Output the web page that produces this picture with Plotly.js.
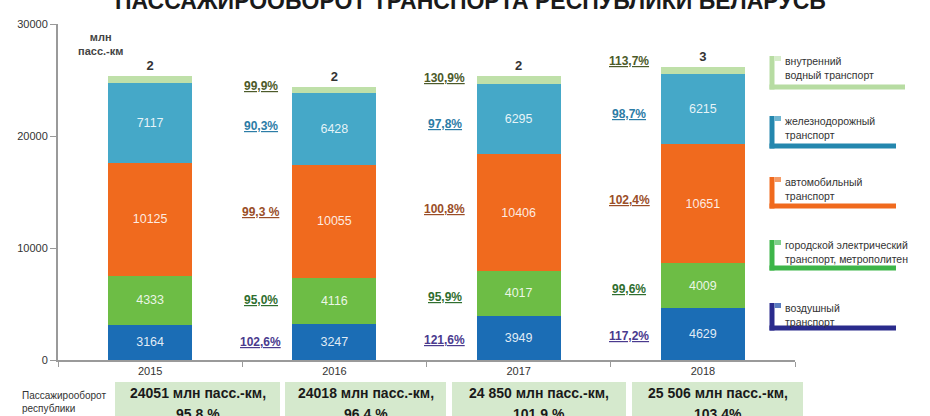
<!DOCTYPE html>
<html>
<head>
<meta charset="utf-8">
<script src="https://cdn.plot.ly/plotly-3.0.1.min.js"></script>
<style>html,body{margin:0;padding:0;background:#fff;}#chart{width:930px;height:416px;}</style>
</head>
<body>
<div id="chart"></div>
<script>
// ---- data ----
const years = ['2015', '2016', '2017', '2018'];
const air = [3164, 3247, 3949, 4629];
const urban = [4333, 4116, 4017, 4009];
const auto = [10125, 10055, 10406, 10651];
const rail = [7117, 6428, 6295, 6215];
const waterValues = [2, 2, 2, 3];
const waterDrawn = [600, 550, 650, 650]; // visible cap height as drawn in the picture

const airGrowth = ['102,6%', '121,6%', '117,2%'];
const urbanGrowth = ['95,0%', '95,9%', '99,6%'];
const autoGrowth = ['99,3 %', '100,8%', '102,4%'];
const railGrowth = ['90,3%', '97,8%', '98,7%'];
const waterGrowth = ['99,9%', '130,9%', '113,7%'];

const totals = ['24051 млн пасс.-км,', '24018 млн пасс.-км,', '24 850 млн пасс.-км,', '25 506 млн пасс.-км,'];
const totalPct = ['95,8 %', '96,4 %', '101,9 %', '103,4%'];

const seriesNames = ['воздушный транспорт', 'городской электрический транспорт, метрополитен', 'автомобильный транспорт', 'железнодорожный транспорт', 'внутренний водный транспорт'];
const legendLabels = ['внутренний<br>водный транспорт', 'железнодорожный<br>транспорт', 'автомобильный<br>транспорт', 'городской электрический<br>транспорт, метрополитен', 'воздушный<br>транспорт'];

// ---- styles ----
const SANS = '"Liberation Sans", Arial, sans-serif';
const colors = {air: '#1b6db5', urban: '#6dbd45', auto: '#f06a1e', rail: '#45a8c8', water: '#bfe0a9'};
const pctColors = {air: '#4a3a8e', urban: '#2f6e2f', auto: '#9a4e28', rail: '#2c7ca6', water: '#4c5a2a'};

const L = 58, R = 135, T = 24, B = 56, W = 930, H = 416;
const PW = W - L - R, PH = H - T - B;
const PX = x => (x - L) / PW;
const PY = y => (H - B - y) / PH;

const barW = 0.455;
const insideFont = {family: SANS, size: 12.5, color: 'rgba(255,255,255,0.88)'};

function barTrace(name, vals, color) {
  return {
    type: 'bar', name: name, x: years, y: vals, width: barW,
    marker: {color: color, line: {width: 0}},
    text: vals.map(String), textposition: 'inside', insidetextanchor: 'middle',
    textangle: 0, constraintext: 'none', textfont: insideFont,
    hoverinfo: 'skip', showlegend: false
  };
}

const traces = [
  barTrace(seriesNames[0], air, colors.air),
  barTrace(seriesNames[1], urban, colors.urban),
  barTrace(seriesNames[2], auto, colors.auto),
  barTrace(seriesNames[3], rail, colors.rail),
  {
    type: 'bar', name: seriesNames[4], x: years, y: waterDrawn, width: barW,
    marker: {color: colors.water, line: {width: 0}},
    text: waterValues.map(String), textposition: 'outside', cliponaxis: false,
    textfont: {family: SANS, size: 13, color: '#333', weight: 'bold'},
    hoverinfo: 'skip', showlegend: false
  }
];

// ---- growth annotations, positioned from the data ----
const annotations = [];
const shapes = [];
const mids = i => {
  const a = air[i], u = urban[i], au = auto[i], r = rail[i];
  return {
    air: a / 2,
    urban: a + u / 2,
    auto: a + u + au / 2,
    rail: a + u + au + r / 2,
    water: a + u + au + r
  };
};
function pct(text, key, i, shift) {
  const m1 = mids(i), m2 = mids(i + 1);
  annotations.push({
    x: i + 0.6, y: (m1[key] + m2[key]) / 2, xref: 'x', yref: 'y',
    text: '<u>' + text + '</u>', showarrow: false, yshift: shift || 0,
    font: {family: SANS, size: 12, color: pctColors[key], weight: 'bold'}
  });
}
for (let i = 0; i < 3; i++) {
  pct(airGrowth[i], 'air', i, 0);
  pct(urbanGrowth[i], 'urban', i, 0);
  pct(autoGrowth[i], 'auto', i, 8);
  pct(railGrowth[i], 'rail', i, 0);
  pct(waterGrowth[i], 'water', i, 2 + 8 * i);
}

// title (cut off at top as in reference)
annotations.push({
  x: PX(470), y: PY(16), xref: 'paper', yref: 'paper', xanchor: 'center', yanchor: 'bottom',
  text: '<b>ПАССАЖИРООБОРОТ ТРАНСПОРТА РЕСПУБЛИКИ БЕЛАРУСЬ</b>', showarrow: false,
  font: {family: SANS, size: 23, color: '#1a1a1a'}
});

// unit label
annotations.push({
  x: PX(100), y: PY(44), xref: 'paper', yref: 'paper', xanchor: 'center', yanchor: 'middle',
  text: '<b>млн<br>пасс.-км</b>', showarrow: false,
  font: {family: SANS, size: 11, color: '#444'}
});

// legend brackets
const legendGeom = [
  {key: 'water', color: '#b7dca2', stub: '#d6ecc9', top: 56, bottom: 87, right: 905},
  {key: 'rail', color: '#2487ae', stub: '#6fb5d1', top: 116, bottom: 146, right: 896},
  {key: 'auto', color: '#f06a1e', stub: '#f49b66', top: 177, bottom: 206, right: 896},
  {key: 'urban', color: '#3db549', stub: '#7fd08a', top: 240, bottom: 268, right: 896},
  {key: 'air', color: '#2a2b8c', stub: '#5a7cc0', top: 303, bottom: 328, right: 896}
];
legendGeom.forEach((g, k) => {
  shapes.push({type: 'line', xref: 'paper', yref: 'paper', x0: PX(772), x1: PX(772), y0: PY(g.top), y1: PY(g.bottom + 2.5), line: {color: g.color, width: 5}});
  shapes.push({type: 'line', xref: 'paper', yref: 'paper', x0: PX(769.5), x1: PX(g.right), y0: PY(g.bottom), y1: PY(g.bottom), line: {color: g.color, width: 5}});
  shapes.push({type: 'rect', xref: 'paper', yref: 'paper', x0: PX(774.5), x1: PX(781), y0: PY(g.top), y1: PY(g.top + 5), fillcolor: g.stub, line: {width: 0}});
  annotations.push({
    x: PX(783), y: PY(g.top - 3), xref: 'paper', yref: 'paper', xanchor: 'left', yanchor: 'top',
    align: 'left', text: legendLabels[k], showarrow: false,
    font: {family: SANS, size: 10.5, color: '#333'}
  });
});

// bottom total boxes
const boxes = [[115, 280], [285, 446], [452, 626], [632, 803]];
boxes.forEach((b, i) => {
  shapes.push({type: 'rect', xref: 'paper', yref: 'paper', x0: PX(b[0]), x1: PX(b[1]), y0: PY(382), y1: PY(440), fillcolor: '#d5e9cd', line: {width: 0}, layer: 'below'});
  annotations.push({
    x: PX((b[0] + b[1]) / 2), y: PY(393), xref: 'paper', yref: 'paper', xanchor: 'center', yanchor: 'middle',
    text: totals[i], showarrow: false,
    font: {family: SANS, size: 14, color: '#1a1a1a', weight: 'bold'}
  });
  annotations.push({
    x: PX((b[0] + b[1]) / 2), y: PY(414), xref: 'paper', yref: 'paper', xanchor: 'center', yanchor: 'middle',
    text: totalPct[i], showarrow: false,
    font: {family: SANS, size: 14, color: '#1a1a1a', weight: 'bold'}
  });
});
annotations.push({
  x: PX(20), y: PY(388), xref: 'paper', yref: 'paper', xanchor: 'left', yanchor: 'top', align: 'left',
  text: 'Пассажирооборот<br>республики', showarrow: false,
  font: {family: SANS, size: 10, color: '#333'}
});

const layout = {
  width: W, height: H, margin: {l: L, r: R, t: T, b: B, pad: 0},
  paper_bgcolor: '#ffffff', plot_bgcolor: '#ffffff',
  barmode: 'stack', showlegend: false,
  xaxis: {
    type: 'category', range: [-0.5, 3.5], showline: true, linecolor: '#9a9a9a', linewidth: 2,
    ticks: 'outside', tickson: 'boundaries', ticklen: 5, tickcolor: '#9a9a9a', tickwidth: 1,
    tickfont: {family: SANS, size: 11, color: '#333'}, showgrid: false, zeroline: false, fixedrange: true
  },
  yaxis: {
    range: [0, 30000], dtick: 10000, tickformat: 'd', showline: true, linecolor: '#9a9a9a', linewidth: 2,
    ticks: 'outside', ticklen: 6, tickcolor: '#9a9a9a', tickwidth: 1,
    tickfont: {family: SANS, size: 11, color: '#333'}, showgrid: false, zeroline: false, fixedrange: true
  },
  annotations: annotations,
  shapes: shapes
};

Plotly.newPlot('chart', traces, layout, {displayModeBar: false, staticPlot: true});
</script>
</body>
</html>
